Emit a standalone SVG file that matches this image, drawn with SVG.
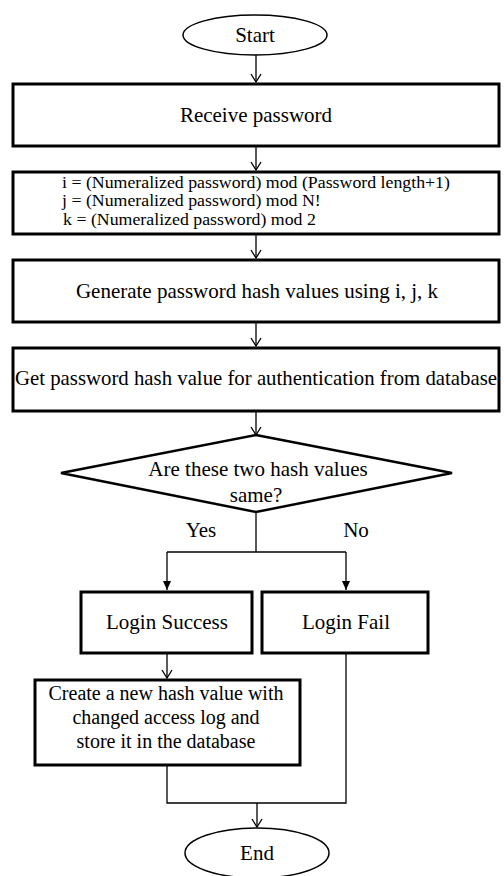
<svg xmlns="http://www.w3.org/2000/svg" width="504" height="876" viewBox="0 0 504 876">
<style>
.box{fill:#fff;stroke:#000;stroke-width:3}
.term{fill:#fff;stroke:#000;stroke-width:1.5}
.c{fill:none;stroke:#000;stroke-width:1.3}
text{font-family:"Liberation Serif","Times New Roman",serif;fill:#000}
.t{font-size:21px;text-anchor:middle}
.f{font-size:16.5px}
.m{font-size:20px;text-anchor:middle}
</style>
<defs>
<marker id="open" markerWidth="12" markerHeight="12" refX="10" refY="6" orient="auto" markerUnits="userSpaceOnUse" viewBox="0 0 12 12">
<path d="M2,1 L10,6 L2,11" fill="none" stroke="#000" stroke-width="1.3"/>
</marker>
<marker id="solid" markerWidth="12" markerHeight="12" refX="10" refY="6" orient="auto" markerUnits="userSpaceOnUse" viewBox="0 0 12 12">
<path d="M1,2 L10,6 L1,10 Z" fill="#000"/>
</marker>
</defs>
<g id="connectors">
<line class="c" x1="256" y1="55" x2="256" y2="82" marker-end="url(#open)"/>
<line class="c" x1="256" y1="147" x2="256" y2="170" marker-end="url(#open)"/>
<line class="c" x1="256" y1="235" x2="256" y2="258" marker-end="url(#open)"/>
<line class="c" x1="256" y1="323" x2="256" y2="346" marker-end="url(#open)"/>
<line class="c" x1="256" y1="412" x2="256" y2="435" marker-end="url(#open)"/>
<line class="c" x1="256" y1="512" x2="256" y2="552"/>
<line class="c" x1="167" y1="552" x2="346" y2="552"/>
<line class="c" x1="167" y1="552" x2="167" y2="590" marker-end="url(#solid)"/>
<line class="c" x1="346" y1="552" x2="346" y2="590" marker-end="url(#solid)"/>
<line class="c" x1="167" y1="654" x2="167" y2="678" marker-end="url(#open)"/>
<polyline class="c" points="167,766 167,803 346,803 346,654"/>
<line class="c" x1="257" y1="803" x2="257" y2="827" marker-end="url(#open)"/>
<text class="t" x="201" y="537">Yes</text>
<text class="t" x="356" y="537">No</text>
</g>
<g id="start">
<ellipse class="term" cx="255" cy="35" rx="72" ry="20"/>
<text class="t" x="255" y="42">Start</text>
</g>
<g id="receive">
<rect class="box" x="13" y="84" width="486" height="62"/>
<text class="t" x="256" y="122">Receive password</text>
</g>
<g id="compute">
<rect class="box" x="13" y="172" width="486" height="62"/>
<g transform="translate(62,0) scale(1.08,1)">
<text class="f" x="0" y="188">i = (Numeralized password) mod (Password length+1)</text>
<text class="f" x="0" y="206.5">j = (Numeralized password) mod N!</text>
<text class="f" x="1" y="225">k = (Numeralized password) mod 2</text>
</g>
</g>
<g id="generate">
<rect class="box" x="13" y="260" width="486" height="62"/>
<text class="t" x="257" y="298">Generate password hash values using i, j, k</text>
</g>
<g id="getdb">
<rect class="box" x="13" y="348" width="486" height="63"/>
<text class="t" x="256" y="385" textLength="482" lengthAdjust="spacingAndGlyphs">Get password hash value for authentication from database</text>
</g>
<g id="decision">
<polygon points="256,435 452,473 256,512 61,473" fill="#fff" stroke="#000" stroke-width="2.5"/>
<text class="t" x="258" y="476">Are these two hash values</text>
<text class="t" x="256" y="502">same?</text>
</g>
<g id="success">
<rect class="box" x="81" y="592" width="171" height="61"/>
<text class="t" x="167" y="629">Login Success</text>
</g>
<g id="fail">
<rect class="box" x="262" y="592" width="166" height="61"/>
<text class="t" x="346" y="629">Login Fail</text>
</g>
<g id="create">
<rect class="box" x="35" y="680" width="265" height="85"/>
<text class="m" x="166" y="700">Create a new hash value with</text>
<text class="m" x="166" y="724">changed access log and</text>
<text class="m" x="166" y="748">store it in the database</text>
</g>
<g id="end">
<ellipse class="term" cx="257" cy="853" rx="72" ry="25"/>
<text class="t" x="257" y="860">End</text>
</g>
</svg>
